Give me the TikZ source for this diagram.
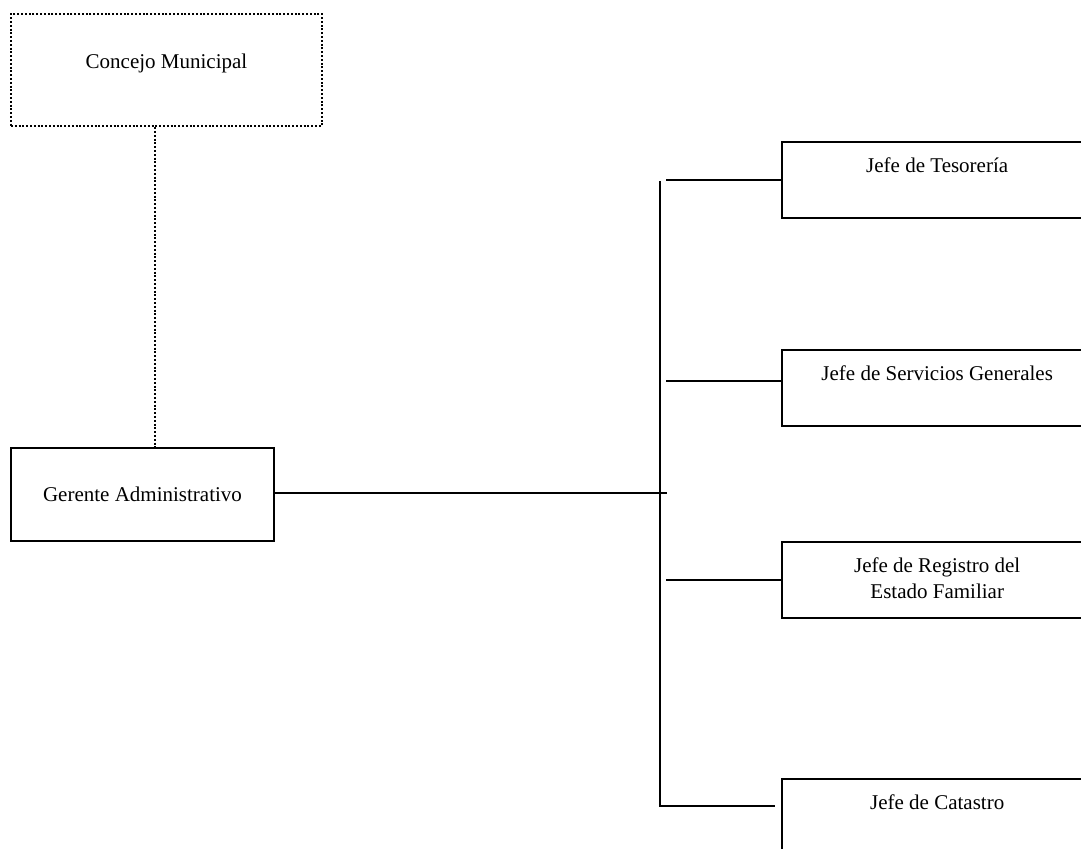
\documentclass[tikz,border=0pt]{standalone}
\usepackage{fontspec}
\setmainfont{Liberation Serif}
\usetikzlibrary{positioning}

\begin{document}
\begin{tikzpicture}[x=0.5pt,y=-0.5pt]
		\tikzset{caja/.style = {shape=rectangle, draw, line width=1.2pt, font=\fontsize{10.5}{13}\selectfont, align=center}}
		\tikzset{jefe/.style = {caja, anchor=north west, minimum width=155pt, minimum height=38pt, text height=7.5pt, text depth=15.5pt}}
		\tikzset{linea/.style = {line width=1pt}}
		\tikzset{punteada/.style = {line width=1.2pt, dash pattern=on 1pt off 0.9pt}}

		\useasboundingbox (0,0) rectangle (1081,849);
		\clip (0,0) rectangle (1081,849);

		\node[caja, punteada, minimum width=155.5pt, minimum height=56pt, text depth=9pt] (concejo) at (166.5,70) {Concejo Municipal};
		\node[caja, minimum width=131.5pt, minimum height=46.5pt] (gerente) at (142.5,494.5) {Gerente Administrativo};

		\node[jefe] (tesoreria) at (781,141) {Jefe de Tesorería};
		\node[jefe] (servicios) at (781,349) {Jefe de Servicios Generales};
		\node[jefe, text height=20.5pt, text depth=2.5pt] (registro) at (781,541) {Jefe de Registro del\\Estado Familiar};
		\node[jefe] (catastro) at (781,778) {Jefe de Catastro};

		\coordinate (bus top) at (660,181);
		\coordinate (bus foot) at (660,806);
		\coordinate (enlace) at (667,493);

		\draw[punteada] ([xshift=-5.75pt]concejo.south) -- ([xshift=-5.75pt]concejo.south |- gerente.north);
		\draw[linea] (gerente.east |- enlace) -- (enlace);
		\draw[linea] (bus top) -- (bus foot) -- ([xshift=-3pt]catastro.west |- bus foot);
		\foreach \n/\s in {tesoreria/0pt, servicios/3.5pt, registro/0pt}
			\draw[linea] ([xshift=3pt,yshift=\s]bus top |- \n.west) -- ([yshift=\s]\n.west);
	\end{tikzpicture}
\end{document}
